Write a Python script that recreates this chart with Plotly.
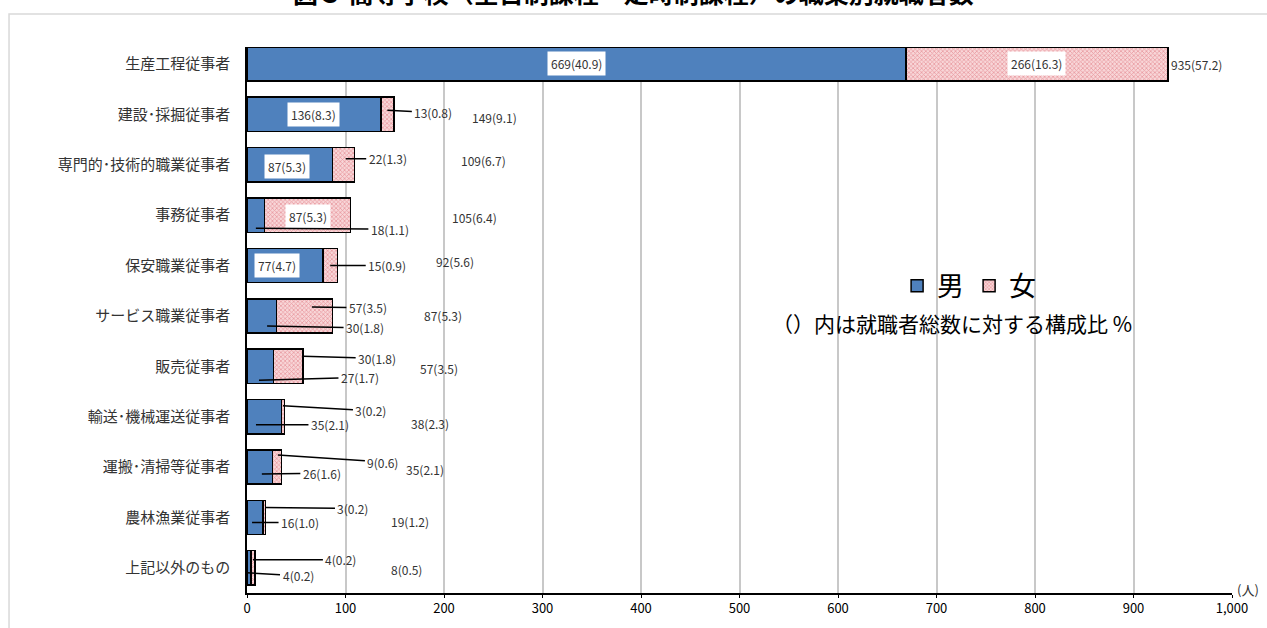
import plotly.graph_objects as go

categories = ["生産工程従事者", "建設･採掘従事者", "専門的･技術的職業従事者", "事務従事者",
              "保安職業従事者", "サービス職業従事者", "販売従事者", "輸送･機械運送従事者",
              "運搬･清掃等従事者", "農林漁業従事者", "上記以外のもの"]
male = [669, 136, 87, 18, 77, 30, 27, 35, 26, 16, 4]
male_pct = ["40.9", "8.3", "5.3", "1.1", "4.7", "1.8", "1.7", "2.1", "1.6", "1.0", "0.2"]
female = [266, 13, 22, 87, 15, 57, 30, 3, 9, 3, 4]
female_pct = ["16.3", "0.8", "1.3", "5.3", "0.9", "3.5", "1.8", "0.2", "0.6", "0.2", "0.2"]
total = [935, 149, 109, 105, 92, 87, 57, 38, 35, 19, 8]
total_pct = ["57.2", "9.1", "6.7", "6.4", "5.6", "5.3", "3.5", "2.3", "2.1", "1.2", "0.5"]

# label layout: kind 'box' = boxed label at segment centre; 'lead' = leader label
# (row, series, kind, anchor fraction along segment, yshift px, ax px, ay px)
label_layout = [
    (0, "m", "box", 0.5, 0, 0, 0), (0, "f", "box", 0.5, 0, 0, 0),
    (1, "m", "box", 0.5, 0, 0, 0), (1, "f", "lead", 0.5, 4, 46, 2),
    (2, "m", "box", 0.5, -2, -3, 0), (2, "f", "lead", 0.6, 6, 42, 0),
    (3, "f", "box", 0.5, -1, 0, 0), (3, "m", "lead", 0.5, -13, 134, 1),
    (4, "m", "box", 0.4, 0, 0, 0), (4, "f", "lead", 0.5, 0, 57, 0),
    (5, "f", "lead", 0.63, 9, 56, 1), (5, "m", "lead", 0.68, -10, 98, 2),
    (6, "f", "lead", 1.0, 10, 74, 2), (6, "m", "lead", 0.45, -14, 101, -3),
    (7, "f", "lead", 0.5, 11, 88, 5), (7, "m", "lead", 0.26, -8, 74, 0),
    (8, "f", "lead", 0.6, 12, 105, 7), (8, "m", "lead", 0.58, -7, 60, -1),
    (9, "f", "lead", 0.75, 10, 88, 1), (9, "m", "lead", 0.32, -5, 48, 0),
    (10, "f", "lead", 0.5, 8, 88, 0), (10, "m", "lead", 0.0, -5, 51, 3),
]
# total label offsets: (xshift px from bar end to text centre, yshift px)
total_layout = [None, (101, -3), (129, 4), (124, -2), (117, 4), (110, 0),
                (136, -2), (146, -7), (144, -2), (144, -4), (152, -2)]

ypos = list(range(len(categories)))
font_jp = "Noto Sans CJK JP"

fig = go.Figure()
fig.add_trace(go.Bar(
    y=ypos, x=male, orientation="h", name="男", width=0.68,
    marker=dict(color="#4F81BD", line=dict(color="black", width=1.5)),
))
fig.add_trace(go.Bar(
    y=ypos, x=female, orientation="h", name="女", width=0.68,
    marker=dict(color="#F0BCBF", line=dict(color="black", width=1.5),
                pattern=dict(shape="x", fgcolor="#D95F68", bgcolor="#F8D6D8", size=3, solidity=0.45)),
))

annos = []
for (r, s, kind, frac, ysh, ax, ay) in label_layout:
    if s == "m":
        x0, w, txt = 0, male[r], f"{male[r]}({male_pct[r]})"
    else:
        x0, w, txt = male[r], female[r], f"{female[r]}({female_pct[r]})"
    xa = x0 + w * frac
    if kind == "box":
        annos.append(dict(x=xa, y=r, text=txt, showarrow=False, bgcolor="white",
                          borderpad=3, xshift=ax, yshift=ysh,
                          font=dict(size=12, color="#333333", family=font_jp)))
    else:
        annos.append(dict(x=xa, y=r, text=txt, showarrow=True, arrowhead=0, arrowwidth=1.5,
                          arrowcolor="black", ax=ax, ay=ay, yshift=ysh, standoff=0,
                          borderpad=2,
                          font=dict(size=12, color="#333333", family=font_jp)))

for r in range(len(categories)):
    txt = f"{total[r]}({total_pct[r]})"
    if total_layout[r] is None:
        annos.append(dict(x=total[r], y=r, text=txt, showarrow=False, xanchor="left",
                          xshift=1, yshift=-1,
                          font=dict(size=12, color="#333333", family=font_jp)))
    else:
        xs, ys = total_layout[r]
        annos.append(dict(x=total[r], y=r, text=txt, showarrow=False, xanchor="center",
                          xshift=xs, yshift=ys,
                          font=dict(size=12, color="#333333", family=font_jp)))

annos.append(dict(xref="paper", yref="paper", x=1.0, y=0.0, xanchor="left", yanchor="middle",
                  xshift=3, yshift=4,
                  text="(人)", showarrow=False, font=dict(size=13, color="#333333", family=font_jp)))
annos.append(dict(xref="paper", yref="paper", x=0.716, y=0.494, xanchor="center", yanchor="middle",
                  text="（）内は就職者総数に対する構成比 %", showarrow=False,
                  font=dict(size=21, color="black", family=font_jp)))
# chart title (partially above the page top, as in the reference)
annos.append(dict(xref="paper", yref="paper", x=(633.5 - 247) / 985, y=(593 + 8) / 546,
                  xanchor="center", yanchor="middle", showarrow=False,
                  text="<b>図３ 高等学校（全日制課程・定時制課程）の職業別就職者数</b>",
                  font=dict(size=25, color="black", family=font_jp)))

fig.update_layout(
    width=1267, height=628,
    margin=dict(l=247, r=35, t=47, b=35),
    barmode="stack",
    plot_bgcolor="white", paper_bgcolor="white",
    font=dict(family=font_jp, color="#333333"),
    xaxis=dict(range=[0, 1000], dtick=100, tickformat=",", showgrid=True, gridcolor="#C8C8C8",
               gridwidth=1.5, showline=True, linecolor="black", linewidth=1.5, ticks="outside",
               ticklen=3, tickcolor="black", zeroline=False,
               tickfont=dict(size=13, color="black", family=font_jp)),
    yaxis=dict(range=[10.5, -0.337], tickvals=ypos, ticktext=categories, showgrid=False,
               showline=True, linecolor="black", linewidth=1.5, ticks="", zeroline=False,
               ticklabelstandoff=12,
               tickfont=dict(size=15, color="#333333", family=font_jp)),
    legend=dict(orientation="h", x=0.66, y=0.562, xanchor="left", yanchor="middle",
                font=dict(size=27, color="black", family=font_jp), bgcolor="rgba(0,0,0,0)",
                itemwidth=30, traceorder="normal"),
    annotations=annos,
    shapes=[dict(type="rect", xref="paper", yref="paper", x0=-0.2416, x1=1.05, y0=-0.1, y1=1.0604,
                 line=dict(color="#D9D9D9", width=1.5), layer="below")],
)

fig.write_html("out.html", config={"displayModeBar": False},
               post_script="document.body.style.margin='0px';document.body.style.overflow='hidden';")
